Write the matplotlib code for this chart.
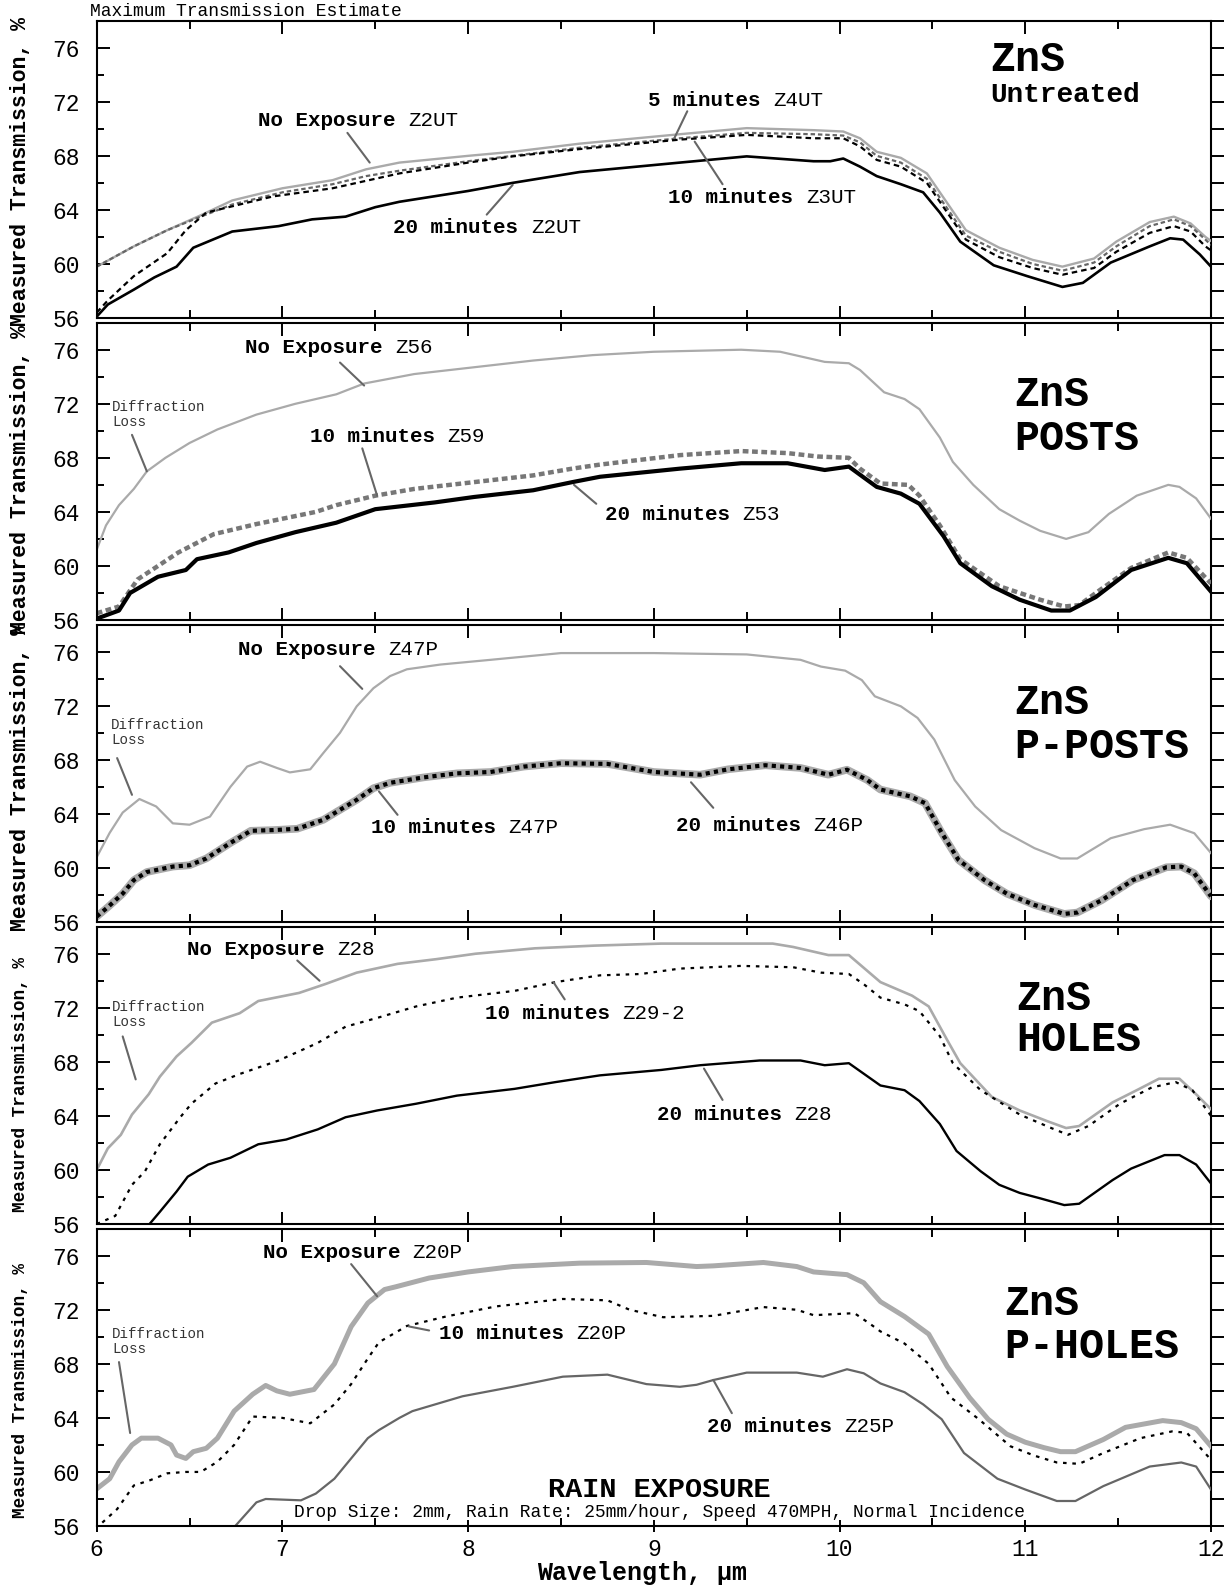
"""Rain-erosion transmission curves for ZnS windows (five treatments, stacked)."""
import matplotlib
matplotlib.use("Agg")
import matplotlib.pyplot as plt
from matplotlib.ticker import MultipleLocator

plt.rcParams["font.family"] = ["Liberation Mono", "DejaVu Sans"]

# ---- panel 1: Untreated ------------------------------------------------------
UT_NOEXP_X = [6.0, 6.2, 6.38, 6.56, 6.73, 7.0, 7.27, 7.45, 7.63, 8.0, 8.24, 8.6, 9.14, 9.5, 9.86, 10.02,
              10.11, 10.2, 10.33, 10.47, 10.63, 10.68, 10.86, 11.04, 11.2, 11.37, 11.49, 11.67, 11.8, 11.89, 11.97, 12.0]
UT_NOEXP_Y = [59.8, 61.3, 62.5, 63.6, 64.7, 65.6, 66.2, 67.0, 67.5, 68.0, 68.3, 68.9, 69.6, 70.05, 69.9, 69.8,
              69.3, 68.3, 67.85, 66.7, 63.5, 62.5, 61.2, 60.3, 59.8, 60.4, 61.65, 63.1, 63.5, 63.0, 62.0, 61.7]
UT_5MIN_X = UT_NOEXP_X
UT_5MIN_Y = [59.8, 61.3, 62.5, 63.5, 64.4, 65.3, 65.9, 66.5, 66.9, 67.6, 68.0, 68.6, 69.3, 69.7, 69.6, 69.5,
             69.0, 68.0, 67.5, 66.3, 63.1, 62.1, 60.9, 60.0, 59.5, 60.1, 61.3, 62.8, 63.3, 62.8, 61.8, 61.4]
UT_10MIN_X = [6.0, 6.06, 6.2, 6.38, 6.48, 6.59, 6.77, 6.95, 7.27, 7.63, 8.0, 8.24, 8.6, 9.14, 9.5, 9.86, 10.02,
              10.11, 10.2, 10.33, 10.47, 10.63, 10.68, 10.86, 11.04, 11.2, 11.37, 11.49, 11.67, 11.8, 11.89, 11.97, 12.0]
UT_10MIN_Y = [56.4, 57.3, 59.1, 60.8, 62.5, 63.8, 64.4, 65.0, 65.6, 66.7, 67.5, 67.96, 68.5, 69.2, 69.55, 69.3, 69.3,
              68.7, 67.7, 67.2, 66.0, 62.8, 61.8, 60.5, 59.7, 59.2, 59.7, 60.9, 62.3, 62.8, 62.4, 61.3, 61.0]
UT_20MIN_X = [6.0, 6.06, 6.2, 6.31, 6.43, 6.52, 6.73, 6.98, 7.16, 7.34, 7.5, 7.63, 8.0, 8.24, 8.6, 9.14, 9.5, 9.86,
              9.95, 10.02, 10.11, 10.2, 10.33, 10.45, 10.54, 10.65, 10.83, 11.01, 11.2, 11.31, 11.46, 11.67, 11.78,
              11.85, 11.94, 12.0]
UT_20MIN_Y = [56.1, 57.0, 58.1, 59.0, 59.8, 61.2, 62.4, 62.8, 63.3, 63.5, 64.2, 64.6, 65.4, 66.0, 66.8, 67.5, 67.96,
              67.6, 67.6, 67.8, 67.2, 66.5, 65.9, 65.3, 63.8, 61.65, 59.9, 59.1, 58.3, 58.6, 60.1, 61.3, 61.9,
              61.8, 60.7, 59.8]

# ---- panel 2: POSTS ----------------------------------------------------------
PO_NOEXP_X = [6.0, 6.05, 6.12, 6.2, 6.27, 6.37, 6.5, 6.65, 6.86, 7.07, 7.29, 7.44, 7.71, 8.03, 8.35, 8.67, 9.0,
              9.47, 9.68, 9.92, 10.05, 10.11, 10.24, 10.35, 10.43, 10.54, 10.61, 10.72, 10.86, 10.97, 11.08, 11.22,
              11.34, 11.45, 11.6, 11.77, 11.83, 11.92, 12.0]
PO_NOEXP_Y = [61.2, 63.0, 64.5, 65.7, 67.0, 68.0, 69.1, 70.1, 71.2, 72.0, 72.7, 73.5, 74.2, 74.7, 75.2, 75.6, 75.85,
              76.0, 75.85, 75.1, 75.0, 74.5, 72.85, 72.35, 71.6, 69.5, 67.7, 66.0, 64.2, 63.35, 62.6, 62.0,
              62.5, 63.85, 65.2, 66.0, 65.85, 65.0, 63.5]
PO_10MIN_X = [6.0, 6.12, 6.22, 6.33, 6.44, 6.63, 6.86, 7.18, 7.29, 7.5, 7.71, 8.03, 8.35, 8.56, 8.71, 9.14, 9.47,
              9.72, 9.88, 10.05, 10.11, 10.22, 10.37, 10.43, 10.54, 10.65, 10.86, 11.08, 11.21, 11.29, 11.4, 11.57,
              11.77, 11.87, 12.0]
PO_10MIN_Y = [56.5, 57.0, 59.0, 60.0, 61.0, 62.35, 63.1, 64.0, 64.5, 65.2, 65.7, 66.2, 66.7, 67.2, 67.5, 68.2, 68.5,
              68.35, 68.1, 68.0, 67.2, 66.1, 66.0, 65.2, 63.0, 60.5, 58.5, 57.5, 57.0, 57.1, 58.2, 59.85,
              61.0, 60.6, 58.7]
PO_20MIN_X = [6.0, 6.12, 6.18, 6.33, 6.48, 6.54, 6.71, 6.86, 7.07, 7.29, 7.5, 7.82, 8.03, 8.35, 8.56, 8.71, 9.14,
              9.47, 9.72, 9.92, 10.05, 10.2, 10.33, 10.43, 10.56, 10.65, 10.82, 10.97, 11.14, 11.24, 11.38, 11.57,
              11.77, 11.87, 12.0]
PO_20MIN_Y = [56.1, 56.7, 58.0, 59.2, 59.7, 60.5, 61.0, 61.7, 62.5, 63.2, 64.2, 64.7, 65.1, 65.6, 66.2, 66.6, 67.2,
              67.6, 67.6, 67.1, 67.35, 65.85, 65.35, 64.6, 62.2, 60.2, 58.5, 57.5, 56.7, 56.7, 57.7, 59.7,
              60.6, 60.2, 58.1]

# ---- panel 3: P-POSTS --------------------------------------------------------
PP_NOEXP_X = [6.0, 6.07, 6.14, 6.23, 6.32, 6.41, 6.5, 6.61, 6.72, 6.81, 6.88, 6.97, 7.04, 7.15, 7.22, 7.31, 7.4,
              7.49, 7.58, 7.67, 7.85, 8.12, 8.5, 9.0, 9.5, 9.79, 9.9, 10.03, 10.12, 10.19, 10.33, 10.42, 10.51,
              10.62, 10.73, 10.87, 11.05, 11.19, 11.28, 11.46, 11.64, 11.78, 11.91, 12.0]
PP_NOEXP_Y = [60.8, 62.6, 64.1, 65.1, 64.55, 63.3, 63.2, 63.8, 66.0, 67.5, 67.86, 67.4, 67.07, 67.3, 68.5, 70.0, 71.96,
              73.3, 74.2, 74.7, 75.05, 75.4, 75.9, 75.9, 75.8, 75.4, 74.9, 74.6, 73.9, 72.7, 71.96, 71.1, 69.5,
              66.5, 64.55, 62.8, 61.46, 60.7, 60.7, 62.2, 62.87, 63.2, 62.57, 61.1]
PP_10MIN_X = [6.0, 6.06, 6.14, 6.2, 6.27, 6.41, 6.5, 6.59, 6.72, 6.83, 6.95, 7.08, 7.22, 7.31, 7.4, 7.49, 7.58,
              7.76, 7.94, 8.12, 8.3, 8.5, 8.75, 9.0, 9.25, 9.4, 9.6, 9.79, 9.94, 10.04, 10.15, 10.22, 10.38, 10.46,
              10.55, 10.64, 10.78, 10.9, 11.05, 11.21, 11.28, 11.41, 11.58, 11.76, 11.84, 11.91, 12.0]
PP_10MIN_Y = [56.4, 57.1, 58.1, 59.1, 59.7, 60.1, 60.2, 60.7, 61.85, 62.75, 62.8, 62.9, 63.56, 64.3, 65.04, 65.9, 66.3,
              66.7, 67.0, 67.1, 67.5, 67.75, 67.7, 67.1, 66.9, 67.3, 67.6, 67.4, 66.9, 67.27, 66.5, 65.8, 65.3, 64.8,
              62.6, 60.6, 59.1, 58.1, 57.26, 56.6, 56.7, 57.6, 59.1, 60.05, 60.1, 59.6, 57.9]
PP_20MIN_X = PP_10MIN_X
PP_20MIN_Y = PP_10MIN_Y

# ---- panel 4: HOLES ----------------------------------------------------------
HO_NOEXP_X = [6.0, 6.06, 6.13, 6.19, 6.28, 6.34, 6.43, 6.51, 6.62, 6.77, 6.87, 7.09, 7.23, 7.4, 7.62, 7.83, 8.04,
              8.36, 8.68, 9.04, 9.42, 9.64, 9.75, 9.94, 10.05, 10.22, 10.39, 10.48, 10.58, 10.65, 10.82, 10.97,
              11.12, 11.22, 11.29, 11.47, 11.6, 11.72, 11.83, 11.92, 12.0]
HO_NOEXP_Y = [60.0, 61.6, 62.6, 64.1, 65.6, 66.9, 68.4, 69.4, 70.9, 71.6, 72.5, 73.1, 73.75, 74.6, 75.25, 75.6, 76.0,
              76.4, 76.6, 76.75, 76.75, 76.75, 76.5, 75.9, 75.9, 73.9, 72.9, 72.1, 69.6, 67.9, 65.4, 64.4,
              63.6, 63.1, 63.25, 65.0, 65.9, 66.75, 66.75, 65.6, 64.5]
HO_10MIN_X = [6.0, 6.1, 6.19, 6.26, 6.34, 6.45, 6.51, 6.64, 6.77, 6.98, 7.19, 7.34, 7.51, 7.72, 7.94, 8.25, 8.47,
              8.71, 8.93, 9.14, 9.47, 9.75, 9.9, 10.05, 10.13, 10.22, 10.35, 10.43, 10.54, 10.61, 10.76, 10.97,
              11.14, 11.23, 11.34, 11.51, 11.68, 11.81, 11.9, 12.0]
HO_10MIN_Y = [56.0, 56.6, 58.9, 59.9, 61.9, 63.9, 64.9, 66.4, 67.1, 68.1, 69.4, 70.6, 71.25, 72.1, 72.75, 73.25, 73.9,
              74.4, 74.5, 74.9, 75.1, 75.0, 74.6, 74.5, 73.75, 72.75, 72.25, 71.75, 69.9, 67.9, 65.9, 64.1,
              63.1, 62.6, 63.25, 64.9, 66.1, 66.5, 65.9, 64.0]
HO_20MIN_X = [6.26, 6.34, 6.43, 6.49, 6.6, 6.72, 6.87, 7.02, 7.19, 7.34, 7.51, 7.72, 7.94, 8.25, 8.47, 8.71, 9.04,
              9.25, 9.57, 9.79, 9.92, 10.05, 10.22, 10.35, 10.43, 10.54, 10.63, 10.76, 10.86, 10.97, 11.08, 11.21,
              11.29, 11.47, 11.57, 11.75, 11.83, 11.92, 12.0]
HO_20MIN_Y = [55.6, 56.9, 58.4, 59.5, 60.4, 60.9, 61.9, 62.25, 63.0, 63.9, 64.4, 64.9, 65.5, 66.0, 66.5, 67.0, 67.4,
              67.75, 68.1, 68.1, 67.75, 67.9, 66.25, 65.9, 65.1, 63.4, 61.4, 59.9, 58.9, 58.3, 57.9, 57.4,
              57.5, 59.25, 60.1, 61.1, 61.1, 60.4, 59.0]

# ---- panel 5: P-HOLES --------------------------------------------------------
PH_NOEXP_X = [6.0, 6.07, 6.12, 6.19, 6.24, 6.33, 6.4, 6.43, 6.48, 6.52, 6.59, 6.65, 6.74, 6.84, 6.91, 6.97, 7.04,
              7.17, 7.28, 7.37, 7.46, 7.55, 7.61, 7.79, 8.0, 8.24, 8.6, 8.96, 9.23, 9.32, 9.59, 9.77, 9.86, 10.04,
              10.13, 10.22, 10.35, 10.48, 10.58, 10.7, 10.8, 10.9, 11.0, 11.1, 11.19, 11.27, 11.42, 11.54, 11.74,
              11.84, 11.92, 12.0]
PH_NOEXP_Y = [58.75, 59.5, 60.75, 62.0, 62.5, 62.5, 62.0, 61.25, 61.0, 61.5, 61.75, 62.5, 64.5, 65.75, 66.4, 66.0,
              65.75, 66.1, 68.0, 70.75, 72.5, 73.5, 73.7, 74.35, 74.8, 75.2, 75.45, 75.5, 75.2, 75.25, 75.5, 75.2,
              74.8, 74.6, 74.0, 72.6, 71.5, 70.2, 67.8, 65.5, 63.9, 62.8, 62.2, 61.8, 61.5, 61.5, 62.4, 63.3, 63.8,
              63.65, 63.2, 61.9]
PH_10MIN_X = [6.03, 6.11, 6.2, 6.29, 6.38, 6.48, 6.56, 6.65, 6.74, 6.84, 7.0, 7.15, 7.28, 7.37, 7.46, 7.52, 7.67,
              7.88, 8.15, 8.51, 8.75, 8.87, 9.05, 9.32, 9.59, 9.77, 9.86, 10.08, 10.17, 10.22, 10.35, 10.48, 10.6,
              10.75, 10.92, 11.05, 11.17, 11.29, 11.42, 11.62, 11.79, 11.87, 12.0]
PH_10MIN_Y = [56.25, 57.25, 59.0, 59.4, 59.9, 60.0, 60.0, 60.75, 62.0, 64.1, 64.0, 63.6, 65.0, 66.5, 68.4, 69.6, 70.8,
              71.5, 72.25, 72.8, 72.7, 72.0, 71.45, 71.55, 72.2, 72.0, 71.6, 71.75, 70.9, 70.4, 69.5, 68.0, 65.5,
              63.9, 61.9, 61.2, 60.7, 60.6, 61.4, 62.5, 63.0, 62.9, 60.9]
PH_20MIN_X = [6.72, 6.86, 6.91, 7.1, 7.18, 7.28, 7.37, 7.46, 7.52, 7.63, 7.7, 7.97, 8.24, 8.51, 8.75, 8.96, 9.14,
              9.23, 9.32, 9.5, 9.77, 9.91, 10.04, 10.13, 10.22, 10.35, 10.45, 10.55, 10.67, 10.85, 11.0, 11.17,
              11.27, 11.42, 11.67, 11.84, 11.92, 12.0]
PH_20MIN_Y = [55.6, 57.75, 58.0, 57.9, 58.4, 59.5, 61.0, 62.5, 63.1, 64.0, 64.5, 65.6, 66.3, 67.05, 67.2, 66.5, 66.3,
              66.45, 66.8, 67.35, 67.35, 67.05, 67.6, 67.3, 66.55, 65.9, 65.0, 63.9, 61.4, 59.5, 58.7, 57.85,
              57.85, 58.95, 60.4, 60.7, 60.4, 58.7]

X_TICKS = [6, 7, 8, 9, 10, 11, 12]
Y_TICKS = [56, 60, 64, 68, 72, 76]
PANEL_TITLES = [("ZnS", "Untreated"), ("ZnS", "POSTS"), ("ZnS", "P-POSTS"), ("ZnS", "HOLES"), ("ZnS", "P-HOLES")]
YLABEL = "Measured Transmission, %"

W_PX, H_PX = 1228, 1585
LEAD = "#666666"
LIGHT = "#aaaaaa"

fig = plt.figure(figsize=(W_PX / 100, H_PX / 100), dpi=100)


def make_panel(i, last=False):
    bottom_px = 318 + 302 * i
    ax = fig.add_axes([96.7 / W_PX, 1 - bottom_px / H_PX, (1211 - 96.7) / W_PX, 297.3 / H_PX])
    ax.set_xlim(6, 12)
    ax.set_ylim(56, 78)
    for s in ax.spines.values():
        s.set_linewidth(1.5)
        s.set_zorder(5)
    ax.spines["top"].set_visible(False)
    ax.spines["right"].set_visible(False)
    ax.xaxis.set_major_locator(MultipleLocator(1))
    ax.xaxis.set_minor_locator(MultipleLocator(0.5))
    ax.yaxis.set_major_locator(MultipleLocator(4))
    ax.yaxis.set_minor_locator(MultipleLocator(2))
    ax.tick_params(axis="y", which="both", direction="in", width=1.4, left=True, right=False, labelsize=16.5, pad=12)
    ax.tick_params(axis="y", which="major", length=9)
    ax.tick_params(axis="y", which="minor", length=5)
    ax.tick_params(axis="x", which="both", direction="in", width=1.4, top=False, labelsize=16.5, pad=4,
                   labelbottom=last)
    ax.tick_params(axis="x", which="major", length=9, direction="inout" if last else "in")
    ax.tick_params(axis="x", which="minor", length=6)
    ax.set_yticks(Y_TICKS)
    ax.set_xticks(X_TICKS)

    top = ax.secondary_xaxis("top")
    top.spines["top"].set_linewidth(1.5)
    top.xaxis.set_major_locator(MultipleLocator(1))
    top.xaxis.set_minor_locator(MultipleLocator(0.5))
    top.tick_params(which="both", direction="in", width=1.4, labeltop=False)
    top.tick_params(which="major", length=9)
    top.tick_params(which="minor", length=6)

    right = ax.secondary_yaxis("right")
    right.spines["right"].set_linewidth(1.5)
    right.yaxis.set_major_locator(MultipleLocator(4))
    right.yaxis.set_minor_locator(MultipleLocator(2))
    right.tick_params(which="both", direction="out", width=1.4, length=9, labelright=False)
    return ax


def tag(ax, x, y, bold, code, fs=15):
    ax.text(x, y, bold, fontsize=fs, fontweight="bold", va="center", ha="left")
    ax.annotate(code, (x, y), xytext=(0.6 * fs * (len(bold) + 1), 0), textcoords="offset points",
                fontsize=fs, va="center", ha="left")


def lead(ax, start, end):
    ax.annotate("", xy=end, xytext=start,
                arrowprops=dict(arrowstyle="-", color=LEAD, lw=1.5, shrinkA=0, shrinkB=0))


def diffraction(ax, x, y):
    ax.text(x, y, "Diffraction\nLoss", fontsize=10.2, color="#333333", va="top", ha="left", linespacing=1.1)


def title(ax, x, y1, y2, t1, t2, fs2=30):
    ax.text(x, y1, t1, fontsize=30, fontweight="bold", va="center", ha="left")
    ax.text(x, y2, t2, fontsize=fs2, fontweight="bold", va="center", ha="left")


axes = [make_panel(i, last=(i == 4)) for i in range(5)]

# panel 1
ax = axes[0]
ax.plot(UT_NOEXP_X, UT_NOEXP_Y, color=LIGHT, lw=1.7)
ax.plot(UT_5MIN_X, UT_5MIN_Y, color="#666666", lw=1.6, dashes=(2, 1.3))
ax.plot(UT_10MIN_X, UT_10MIN_Y, color="black", lw=1.6, dashes=(2.5, 1.8))
ax.plot(UT_20MIN_X, UT_20MIN_Y, color="black", lw=1.9)
tag(ax, 6.868, 70.63, "No Exposure", "Z2UT")
tag(ax, 8.969, 72.12, "5 minutes", "Z4UT")
tag(ax, 9.078, 64.88, "10 minutes", "Z3UT")
tag(ax, 7.597, 62.72, "20 minutes", "Z2UT")
lead(ax, (7.35, 69.7), (7.47, 67.5))
lead(ax, (9.18, 71.3), (9.11, 69.3))
lead(ax, (9.22, 69.05), (9.37, 65.9))
lead(ax, (8.24, 65.85), (8.10, 63.65))
title(ax, 10.81, 75.1, 72.5, *PANEL_TITLES[0], fs2=20)
fig.text(90 / W_PX, 1 - 12 / H_PX, "Maximum Transmission Estimate", fontsize=13, va="center", ha="left")

# panel 2
ax = axes[1]
ax.plot(PO_NOEXP_X, PO_NOEXP_Y, color=LIGHT, lw=1.6)
ax.plot(PO_10MIN_X, PO_10MIN_Y, color="#777777", lw=3.2, dashes=(1.3, 0.8))
ax.plot(PO_20MIN_X, PO_20MIN_Y, color="black", lw=3.0)
tag(ax, 6.80, 76.15, "No Exposure", "Z56")
tag(ax, 7.146, 69.6, "10 minutes", "Z59")
tag(ax, 8.736, 63.77, "20 minutes", "Z53")
lead(ax, (7.31, 75.05), (7.44, 73.35))
lead(ax, (7.43, 68.7), (7.51, 65.2))
lead(ax, (8.57, 66.0), (8.69, 64.6))
lead(ax, (6.19, 69.7), (6.27, 67.0))
diffraction(ax, 6.083, 72.3)
title(ax, 10.94, 72.68, 69.36, *PANEL_TITLES[1])

# panel 3
ax = axes[2]
ax.plot(PP_NOEXP_X, PP_NOEXP_Y, color=LIGHT, lw=1.6)
ax.plot(PP_20MIN_X, PP_20MIN_Y, color=LIGHT, lw=5.5, solid_capstyle="round")
ax.plot(PP_10MIN_X, PP_10MIN_Y, color="black", lw=3.0, dashes=(1.0, 1.0))
tag(ax, 6.76, 76.15, "No Exposure", "Z47P")
tag(ax, 7.477, 63.02, "10 minutes", "Z47P")
tag(ax, 9.12, 63.17, "20 minutes", "Z46P")
lead(ax, (7.31, 74.93), (7.43, 73.25))
lead(ax, (7.52, 65.66), (7.62, 63.93))
lead(ax, (9.32, 64.45), (9.20, 66.34))
lead(ax, (6.11, 68.13), (6.19, 65.41))
diffraction(ax, 6.078, 71.1)
title(ax, 10.94, 72.23, 68.98, *PANEL_TITLES[2])

# panel 4
ax = axes[3]
ax.plot(HO_NOEXP_X, HO_NOEXP_Y, color=LIGHT, lw=1.9)
ax.plot(HO_10MIN_X, HO_10MIN_Y, color="black", lw=1.6, dashes=(1.6, 2.6))
ax.plot(HO_20MIN_X, HO_20MIN_Y, color="black", lw=1.7)
tag(ax, 6.487, 76.3, "No Exposure", "Z28")
tag(ax, 8.09, 71.6, "10 minutes", "Z29-2")
tag(ax, 9.017, 64.08, "20 minutes", "Z28")
lead(ax, (7.08, 75.5), (7.20, 74.0))
lead(ax, (8.46, 73.88), (8.52, 72.62))
lead(ax, (9.27, 67.5), (9.37, 65.18))
lead(ax, (6.14, 69.88), (6.21, 66.7))
diffraction(ax, 6.083, 72.6)
title(ax, 10.95, 72.68, 69.58, *PANEL_TITLES[3])

# panel 5
ax = axes[4]
ax.plot(PH_NOEXP_X, PH_NOEXP_Y, color=LIGHT, lw=3.6)
ax.plot(PH_10MIN_X, PH_10MIN_Y, color="black", lw=1.6, dashes=(1.6, 2.6))
ax.plot(PH_20MIN_X, PH_20MIN_Y, color="#666666", lw=1.6)
tag(ax, 6.894, 76.23, "No Exposure", "Z20P")
tag(ax, 7.842, 70.24, "10 minutes", "Z20P")
tag(ax, 9.284, 63.35, "20 minutes", "Z25P")
lead(ax, (7.37, 75.38), (7.51, 73.0))
lead(ax, (7.68, 70.77), (7.79, 70.47))
lead(ax, (9.32, 66.81), (9.42, 64.35))
lead(ax, (6.12, 68.13), (6.18, 62.88))
diffraction(ax, 6.083, 70.7)
title(ax, 10.885, 72.44, 69.26, *PANEL_TITLES[4])
ax.text(9.03, 58.65, "RAIN EXPOSURE", fontsize=20.5, fontweight="bold", ha="center", va="center")
ax.text(9.03, 56.97, "Drop Size: 2mm, Rain Rate: 25mm/hour, Speed 470MPH, Normal Incidence",
        fontsize=12.9, ha="center", va="center")

# y labels: the top three are set larger and spill over the panel edges
for center_px, fs in [(172, 15.5), (480, 15.5), (777, 15.5), (1084, 12.8), (1391, 12.8)]:
    fig.text(21 / W_PX, 1 - center_px / H_PX, YLABEL, rotation=90, fontsize=fs, fontweight="bold",
             ha="center", va="center")

fig.text(642 / W_PX, 1 - 1573 / H_PX, "Wavelength, µm", fontsize=18, fontweight="bold", ha="center", va="center")

fig.savefig("out.png", dpi=100)
